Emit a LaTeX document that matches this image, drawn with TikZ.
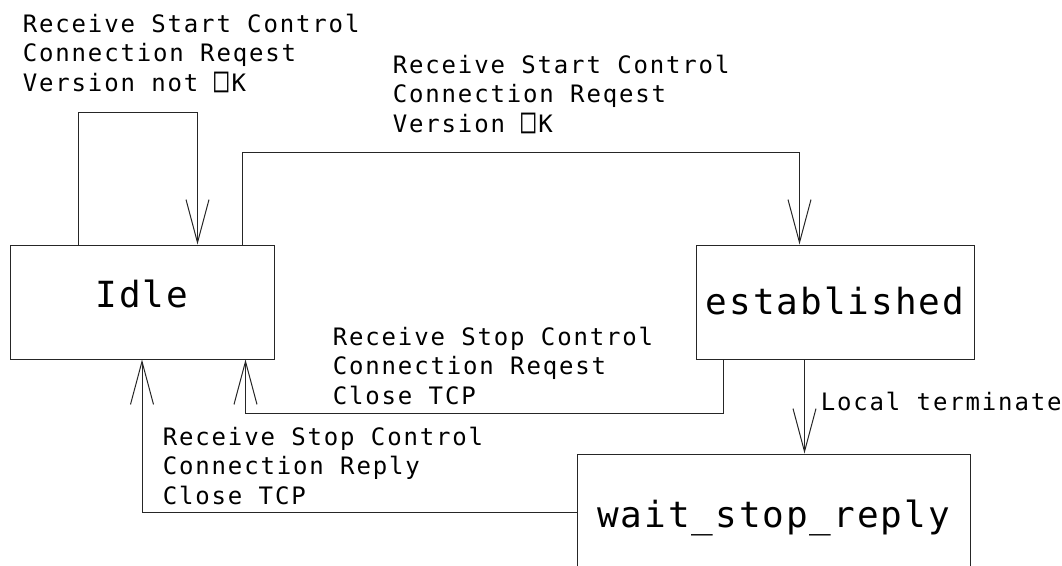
\documentclass[tikz,border=0pt]{standalone}
\usepackage{fontspec}
\usetikzlibrary{arrows.meta}
\newfontfamily\lblfont{DejaVu Sans Mono}[LetterSpace=7.7]
\newfontfamily\statefont{DejaVu Sans Mono}[LetterSpace=5.5]
% tall empty box glyph used in the "Version" lines
\newcommand{\tallbox}{\scalebox{1.0}[1.45]{□}\kern2.5pt}

\tikzset{
  wire/.style={line width=1pt, draw=black!85},
  arr/.style={wire, -{Straight Barb[length=43pt,width=23pt,line width=1pt]}},
  state/.style={draw=black!85, line width=1pt, rectangle, inner sep=0pt,
    font=\statefont\fontsize{36}{40}\selectfont},
  lbl/.style={inner sep=0pt, anchor=north west, align=left,
    font=\lblfont\fontsize{24}{29.5}\selectfont},
}

\begin{document}
\begin{tikzpicture}[x=1pt,y=-1pt]
  \useasboundingbox (0,0) rectangle (1062,565);
  \clip (0,0) rectangle (1062,565);

  % states
  \node[state, minimum width=264pt, minimum height=114pt,
        text height=15pt, text depth=5pt] (idle) at (142,302) {Idle};
  \node[state, minimum width=278pt, minimum height=114pt,
        text height=24pt, text depth=0pt] (est) at (835,302) {established};
  \node[state, minimum width=393pt, minimum height=156pt,
        text height=0pt, text depth=10pt] (wait) at (773.5,532) {wait\_stop\_reply};

  % transition labels
  \node[lbl] (lversbad) at (22.6,13.8) {Receive Start Control\\Connection Reqest\\Version not \tallbox K};
  \node[lbl] (lversok) at (392.6,54.8) {Receive Start Control\\Connection Reqest\\Version \tallbox K};
  \node[lbl] (lstopreq) at (332.6,326.8) {Receive Stop Control\\Connection Reqest\\Close TCP};
  \node[lbl] (lstoprep) at (162.6,426.8) {Receive Stop Control\\Connection Reply\\Close TCP};
  \node[lbl] (lterm) at (820.6,391.8) {Local terminate};

  % transitions
  \draw[arr] ([xshift=69pt]idle.north west) -- ++(0,-132) -| ([xshift=188pt]idle.north west);
  \draw[arr] ([xshift=233pt]idle.north west) -- ++(0,-92) -| ([xshift=104pt]est.north west);
  \draw[arr] ([xshift=28pt]est.south west) -- ++(0,54) -| ([xshift=236pt]idle.south west);
  \draw[arr] ([xshift=109pt]est.south west) coordinate (lt) -- (lt |- wait.north);
  \draw[arr] ([yshift=20pt]wait.west) -| (idle.south);
\end{tikzpicture}
\end{document}
